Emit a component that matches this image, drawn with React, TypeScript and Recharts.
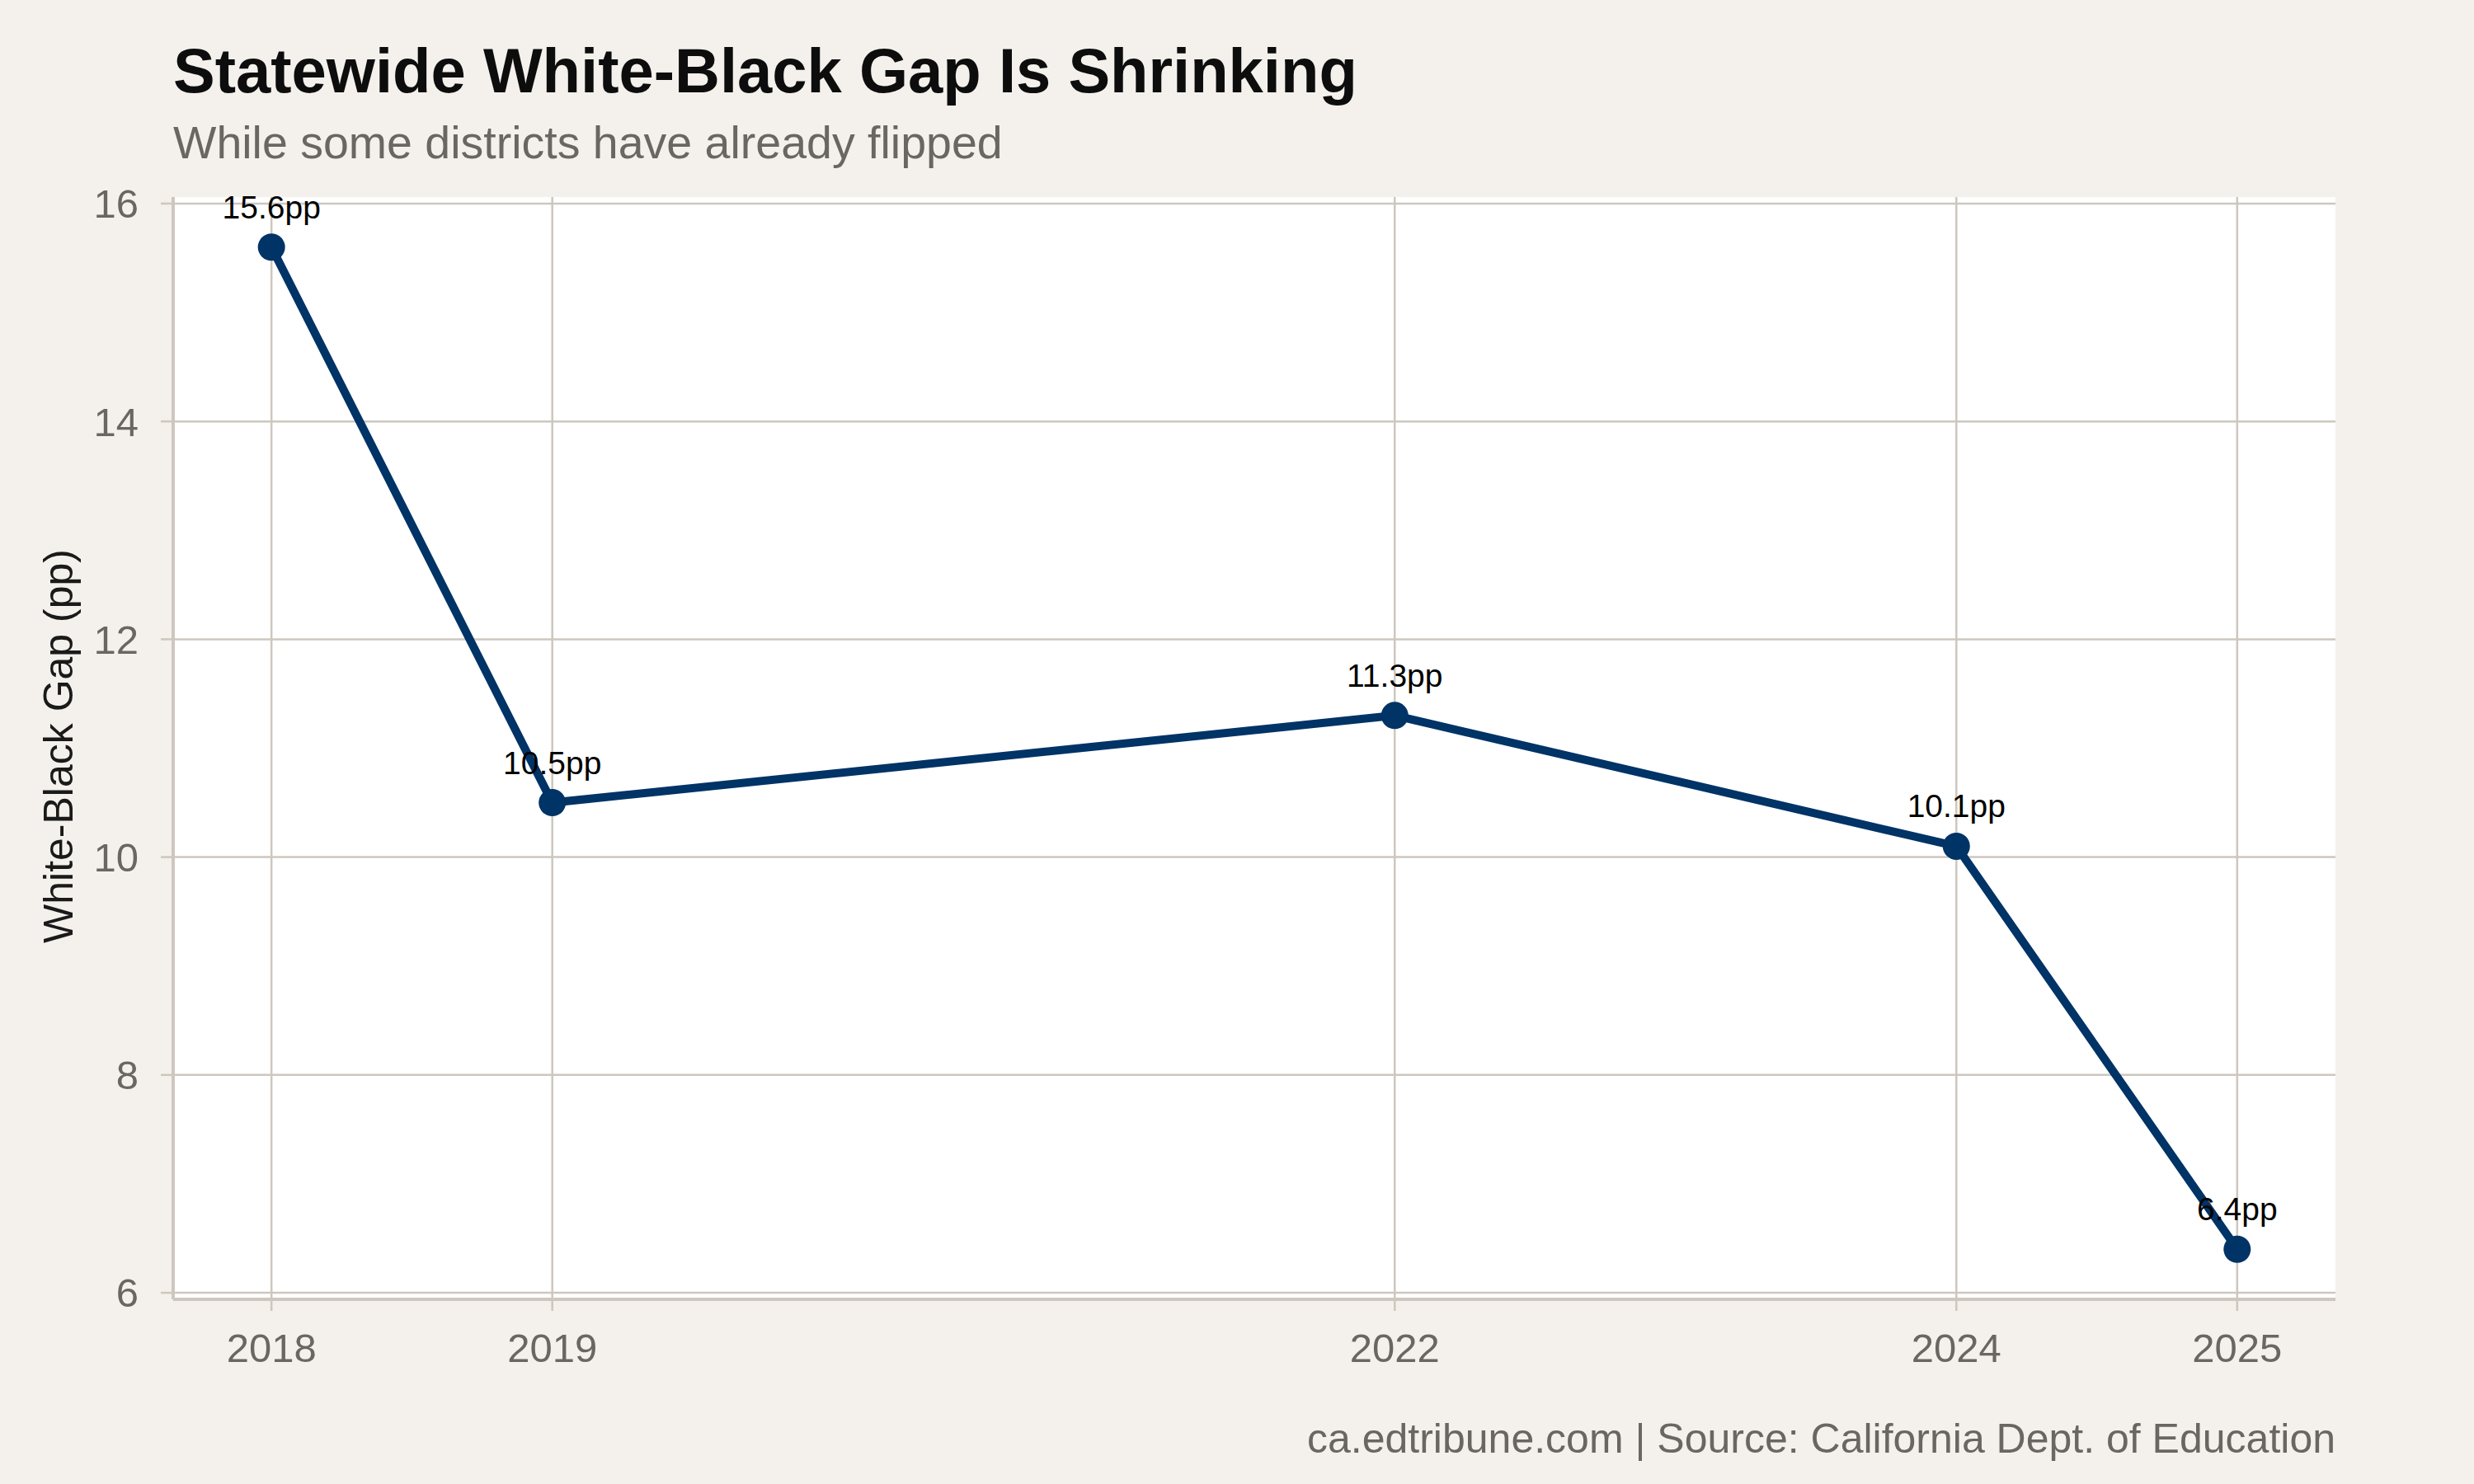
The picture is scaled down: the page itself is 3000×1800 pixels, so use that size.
import React from 'react';
import { LineChart, Line, XAxis, YAxis, CartesianGrid, LabelList } from 'recharts';

const years = [2018, 2019, 2022, 2024, 2025];
const gapValues = [15.6, 10.5, 11.3, 10.1, 6.4];
const yTicks = [6, 8, 10, 12, 14, 16];
const titleText = 'Statewide White-Black Gap Is Shrinking';
const subtitleText = 'While some districts have already flipped';
const yAxisTitle = 'White-Black Gap (pp)';
const captionText = 'ca.edtribune.com | Source: California Dept. of Education';

const data = years.map((year, i) => ({ year, gap: gapValues[i], label: `${gapValues[i]}pp` }));

const W = 3000;
const H = 1800;
const BG = '#f4f1ec';
const GRID = '#cdc7be';
const NAVY = '#003366';
const GREY_TEXT = '#6a6661';
const FONT = '"Liberation Sans", Arial, Helvetica, sans-serif';

export default function App() {
  return (
    <div style={{ position: 'absolute', left: 0, top: 0, width: W, height: H, background: BG, fontFamily: FONT }}>
      <LineChart
        width={W}
        height={H}
        data={data}
        margin={{ top: 239, right: 168, bottom: 124, left: 0 }}
      >
        <CartesianGrid
          fill="#ffffff"
          stroke={GRID}
          strokeWidth={2.5}
          vertical={true}
          horizontal={true}
          verticalValues={years}
          horizontalValues={yTicks}
        />
        <XAxis
          dataKey="year"
          type="number"
          domain={[2017.65, 2025.35]}
          ticks={years}
          allowDataOverflow
          height={100}
          tickSize={14}
          tickMargin={27}
          axisLine={{ stroke: GRID, strokeWidth: 4 }}
          tickLine={{ stroke: GRID, strokeWidth: 2.5 }}
          tick={{ fill: GREY_TEXT, fontSize: 49, fontFamily: FONT }}
          interval={0}
        />
        <YAxis
          type="number"
          domain={[5.94, 16.06]}
          ticks={yTicks}
          allowDataOverflow
          width={210}
          tickSize={15}
          tickMargin={27}
          axisLine={{ stroke: GRID, strokeWidth: 4 }}
          tickLine={{ stroke: GRID, strokeWidth: 2.5 }}
          tick={{ fill: GREY_TEXT, fontSize: 49, fontFamily: FONT }}
          interval={0}
        />
        <Line
          type="linear"
          dataKey="gap"
          stroke={NAVY}
          strokeWidth={10}
          dot={{ r: 16.5, fill: NAVY, stroke: 'none' }}
          activeDot={false}
          isAnimationActive={false}
        >
          <LabelList
            dataKey="label"
            position="top"
            offset={35}
            fill="#000000"
            fontSize={39}
            fontFamily={FONT}
          />
        </Line>
      </LineChart>
      <svg
        width={W}
        height={H}
        style={{ position: 'absolute', left: 0, top: 0, pointerEvents: 'none' }}
      >
        <text x={210} y={112} fontSize={76} fontWeight="bold" fill="#0d0d0d" fontFamily={FONT}>
          {titleText}
        </text>
        <text x={210} y={192} fontSize={55.5} fill={GREY_TEXT} fontFamily={FONT}>
          {subtitleText}
        </text>
        <text
          x={88}
          y={905}
          transform="rotate(-90 88 905)"
          textAnchor="middle"
          fontSize={50}
          fill="#1a1a1a"
          fontFamily={FONT}
        >
          {yAxisTitle}
        </text>
        <text x={2832} y={1762} textAnchor="end" fontSize={50} fill={GREY_TEXT} fontFamily={FONT}>
          {captionText}
        </text>
      </svg>
    </div>
  );
}
